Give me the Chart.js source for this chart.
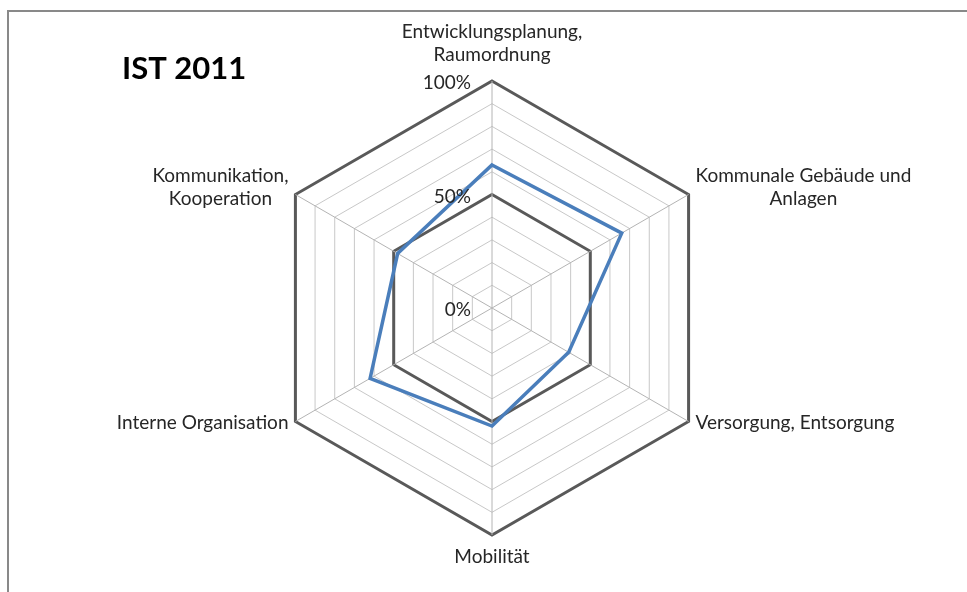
<!DOCTYPE html>
<html>
<head>
  <title>IST 2011</title>
  <script src="https://cdn.jsdelivr.net/npm/chart.js@4"></script>
  <style>
    html, body { margin: 0; padding: 0; background: #fff; }
    canvas { display: block; }
  </style>
</head>
<body>
  <canvas id="ist-2011" width="967" height="592"></canvas>

  <script>
    // axes of the radar (one entry per line of the label)
    let categories = [
      ['Entwicklungsplanung,', 'Raumordnung'],
      ['Kommunale Gebäude und', 'Anlagen'],
      ['Versorgung, Entsorgung'],
      ['Mobilität'],
      ['Interne Organisation'],
      ['Kommunikation,', 'Kooperation']
    ]
    let ist2011 = [63, 66, 39, 52, 62, 48]
    let tickValues = [0, 50, 100]
    let tickLabels = ['0%', '50%', '100%']

    const labelFont = '19px Lato, "Open Sans", sans-serif'
    const lineH = 23

    // frame, title, axis labels and % labels
    const decorations = {
      id: 'decorations',
      beforeDraw(chart) {
        const c = chart.ctx
        c.save()
        c.fillStyle = '#fff'
        c.fillRect(0, 0, chart.width, chart.height)
        c.strokeStyle = '#898989'
        c.lineWidth = 2
        c.beginPath()
        c.moveTo(8, chart.height)
        c.lineTo(8, 11)
        c.lineTo(chart.width, 11)
        c.stroke()
        c.restore()
      },
      afterDraw(chart) {
        const c = chart.ctx
        const r = chart.scales.r
        c.save()
        c.fillStyle = '#000'
        c.font = 'bold 31px Lato, "Open Sans", sans-serif'
        c.textAlign = 'left'
        c.textBaseline = 'alphabetic'
        c.fillText('IST 2011', 122, 79)

        c.font = labelFont
        c.fillStyle = '#262626'
        c.textBaseline = 'middle'
        c.textAlign = 'center'
        categories.forEach((lines, i) => {
          const p = r.getPointPosition(i, r.drawingArea + 8)
          const w = Math.max(...lines.map(l => c.measureText(l).width))
          let x = p.x, y0
          if (Math.abs(p.x - r.xCenter) < 2) {
            if (p.y < r.yCenter) y0 = p.y - 18 - (lines.length - 1) * lineH
            else y0 = p.y + 14
          } else {
            x = p.x > r.xCenter ? p.x + w / 2 : p.x - w / 2
            y0 = p.y - 3 - (lines.length - 1) * lineH / 2
          }
          lines.forEach((l, k) => c.fillText(l, x, y0 + k * lineH))
        })

        c.textAlign = 'right'
        tickValues.forEach((v, i) => {
          const d = r.getDistanceFromCenterForValue(v)
          c.fillText(tickLabels[i], r.xCenter - 21, r.yCenter - d + 2)
        })
        c.restore()
      }
    }

    new Chart(document.getElementById('ist-2011').getContext('2d'), {
      type: 'radar',
      data: {
        labels: categories,
        datasets: [{
          label: 'IST 2011',
          data: ist2011,
          borderColor: '#4a7ebb',
          borderWidth: 3.5,
          fill: false,
          pointRadius: 0,
          pointHoverRadius: 0,
          tension: 0
        }]
      },
      options: {
        responsive: false,
        animation: false,
        devicePixelRatio: 1,
        layout: { padding: { left: 265, right: 248, top: 81, bottom: 57 } },
        plugins: {
          legend: { display: false },
          tooltip: { enabled: false }
        },
        scales: {
          r: {
            min: 0,
            max: 100,
            ticks: { display: false, stepSize: 10 },
            pointLabels: { display: false },
            grid: {
              color: ctx => ctx.tick.value % 50 === 0 ? '#595959' : '#c8c8c8',
              lineWidth: ctx => ctx.tick.value % 50 === 0 ? 3 : 1
            },
            angleLines: { color: '#b4b4b4', lineWidth: 1 }
          }
        }
      },
      plugins: [decorations]
    });
  </script>
</body>
</html>
